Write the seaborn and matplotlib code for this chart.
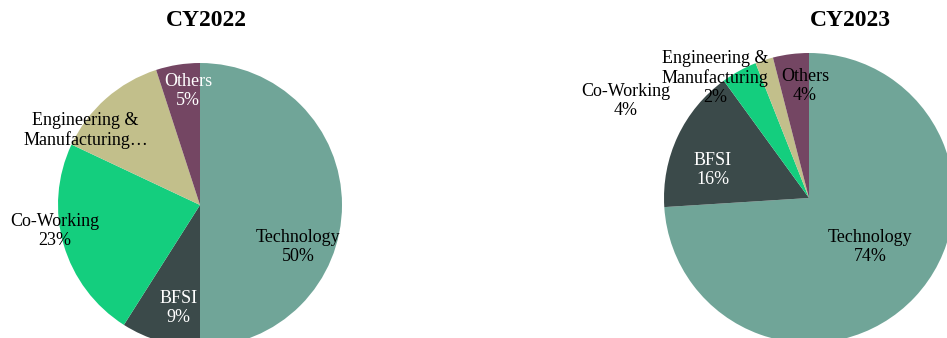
import numpy as np
import matplotlib
matplotlib.use("Agg")
import matplotlib.pyplot as plt
import seaborn as sns

# Data
sectors = ["Technology", "BFSI", "Co-Working", "Engineering &\nManufacturing", "Others"]
share_2022 = [50, 9, 23, 13, 5]
share_2023 = [74, 16, 4, 2, 4]
labels_2022 = ["Technology\n50%", "BFSI\n9%", "Co-Working\n23%", "Engineering &\nManufacturing…", "Others\n5%"]
labels_2023 = ["Technology\n74%", "BFSI\n16%", "Co-Working\n4%", "Engineering &\nManufacturing\n2%", "Others\n4%"]
titles = ["CY2022", "CY2023"]

sns.set_style("white")
plt.rcParams["font.family"] = ["Liberation Serif", "DejaVu Serif"]

colors = sns.color_palette(["#70a598", "#3b4a4a", "#14ce7e", "#c2bf8b", "#744663"])

# Label placement (angle in degrees, distance in radii) and text colour
place_2022 = [(-23, 0.75), (-102, 0.74), (190, 1.04), (147, 0.96), (96, 0.81)]
place_2023 = [(-39, 0.54), (164, 0.69), (152, 1.43), (128, 1.05), (92, 0.77)]
tcol_2022 = ["black", "white", "black", "black", "white"]
tcol_2023 = ["black", "white", "black", "black", "black"]

fig = plt.figure(figsize=(9.47, 3.38), dpi=100)
ax = fig.add_axes([0, 0, 1, 1])

pies = [
    (share_2022, labels_2022, place_2022, tcol_2022, (200, 133), 142, (206, 318)),
    (share_2023, labels_2023, place_2023, tcol_2023, (809, 140), 145, (850, 318)),
]

for (vals, labs, place, tcol, center, radius, tpos), title in zip(pies, titles):
    ax.pie(vals, colors=colors, startangle=90, counterclock=False,
           center=center, radius=radius,
           wedgeprops=dict(linewidth=0))
    for lab, (ang, dist), c in zip(labs, place, tcol):
        a = np.deg2rad(ang)
        x = center[0] + dist * radius * np.cos(a)
        y = center[1] + dist * radius * np.sin(a)
        ax.text(x, y, lab, ha="center", va="center",
                fontsize=13, color=c, linespacing=1.15)
    ax.text(tpos[0], tpos[1], title, ha="center", va="center",
            fontsize=17, fontweight="bold", color="black")

ax.set_xlim(0, 947)
ax.set_ylim(0, 338)
ax.set_aspect("auto")
ax.axis("off")

fig.savefig("out.png", dpi=100, facecolor="white")
